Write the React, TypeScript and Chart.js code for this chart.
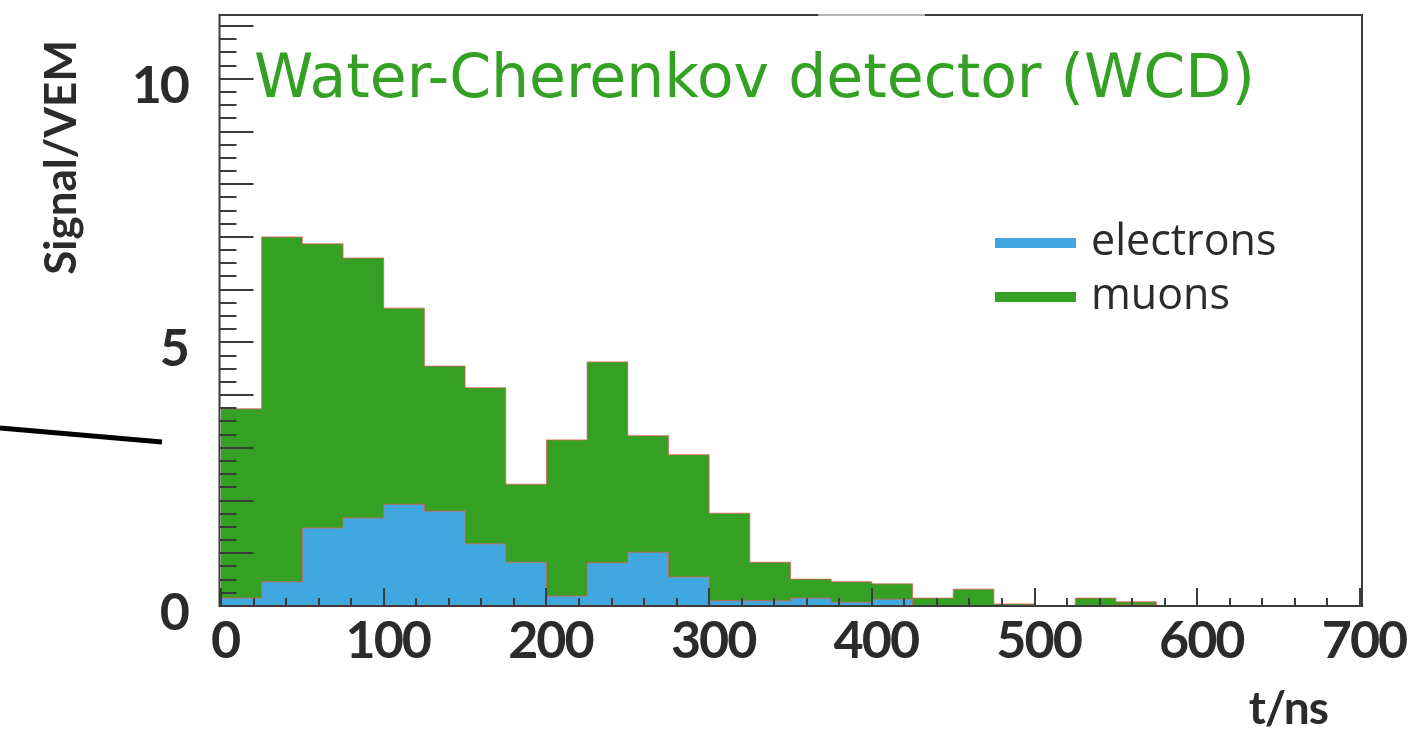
import { useEffect, useRef } from "react";
import { Chart, registerables } from "chart.js";

Chart.register(...registerables);

// Histogram binning (ns)
const BIN_WIDTH = 25;

// Per-bin signal contributions in VEM, bins of 25 ns starting at t = 0
const electrons = [
  0.15, 0.46, 1.48, 1.67, 1.93, 1.8, 1.18, 0.83, 0.19, 0.82, 1.02, 0.55, 0.1,
  0.1, 0.15, 0.07, 0.13, 0, 0, 0, 0, 0, 0.02,
];
const muons = [
  3.59, 6.54, 5.39, 4.93, 3.72, 2.75, 2.96, 1.48, 2.96, 3.81, 2.21, 2.32, 1.66,
  0.73, 0.36, 0.39, 0.29, 0.15, 0.32, 0.04, 0, 0.15, 0.06,
];

// Axis ranges and labelled ticks
const X_MAX = 700;
const Y_MAX = 11.21;
const xTickLabels = [0, 100, 200, 300, 400, 500, 600, 700];
const yTickLabels = [0, 5, 10];

const TITLE = "Water-Cherenkov detector (WCD)";
const X_TITLE = "t/ns";
const Y_TITLE = "Signal/VEM";
const legendItems = [
  { label: "electrons", color: "rgb(64,168,222)" },
  { label: "muons", color: "rgb(52,160,36)" },
];

const GREEN = "rgb(52,160,36)";
const BLUE = "rgb(64,168,222)";
const OUTLINE = "rgba(235,90,90,0.75)";
const AXIS = "#3b3b3b";
const TEXT = "#2b2b2b";

// Muons are stacked on top of electrons: the green outline is the total signal
const totalSignal = muons.map((m, i) => m + electrons[i]);

// Step outline of a histogram: one point per bin's left edge plus closing edges
function histogramPoints(values: number[]) {
  const pts: { x: number; y: number }[] = [{ x: 0, y: 0 }];
  values.forEach((v, i) => pts.push({ x: i * BIN_WIDTH, y: v }));
  pts.push({ x: values.length * BIN_WIDTH, y: 0 });
  return pts;
}

const rootStylePlugin = {
  id: "rootStyle",
  afterDatasetsDraw(chart: any) {
    const { ctx, chartArea, scales } = chart;
    const xs = scales.x;
    const ys = scales.y;
    const left = chartArea.left - 1.5;
    const right = chartArea.right + 2;
    const top = chartArea.top;
    const bottom = chartArea.bottom;

    ctx.save();

    // y ticks, pointing inward from the left frame
    ctx.strokeStyle = AXIS;
    ctx.lineWidth = 2;
    for (let k = 0; k * 0.25 <= Y_MAX; k++) {
      const v = k * 0.25;
      const y = Math.round(ys.getPixelForValue(v));
      const len = k % 4 === 0 ? 34 : 17;
      ctx.beginPath();
      ctx.moveTo(left, y);
      ctx.lineTo(left + len, y);
      ctx.stroke();
    }
    // x ticks, pointing up from the bottom frame
    for (let t = 0; t <= X_MAX; t += 20) {
      const x = Math.round(xs.getPixelForValue(t));
      const len = t % 100 === 0 ? 18 : 8;
      ctx.beginPath();
      ctx.moveTo(x, bottom);
      ctx.lineTo(x, bottom - len);
      ctx.stroke();
    }

    // frame
    ctx.strokeStyle = AXIS;
    ctx.lineWidth = 2;
    ctx.strokeRect(left, top, right - left, bottom - top);
    // lighter patch on the top edge
    ctx.strokeStyle = "#b4b4b4";
    ctx.beginPath();
    ctx.moveTo(818, top);
    ctx.lineTo(925, top);
    ctx.stroke();

    // tick labels
    ctx.fillStyle = TEXT;
    ctx.font = "bold 52px Lato";
    (ctx as any).letterSpacing = "-2px";
    ctx.textBaseline = "middle";
    ctx.textAlign = "center";
    xTickLabels.forEach((t) => {
      ctx.fillText(String(t), xs.getPixelForValue(t) + 4, bottom + 35);
    });
    ctx.textAlign = "right";
    yTickLabels.forEach((v) => {
      ctx.fillText(String(v), 188, ys.getPixelForValue(v) + 7);
    });

    // axis titles
    ctx.font = "bold 46px Lato";
    (ctx as any).letterSpacing = "-1px";
    ctx.textAlign = "right";
    ctx.textBaseline = "alphabetic";
    ctx.fillText(X_TITLE, 1328, 724);

    ctx.save();
    ctx.translate(76, 40);
    ctx.rotate(-Math.PI / 2);
    ctx.font = "bold 44px Lato";
    (ctx as any).letterSpacing = "0px";
    ctx.textAlign = "right";
    ctx.textBaseline = "alphabetic";
    ctx.fillText(Y_TITLE, 0, 0);
    ctx.restore();

    // title inside the frame
    (ctx as any).letterSpacing = "0px";
    ctx.font = "60px 'DejaVu Sans'";
    ctx.fillStyle = GREEN;
    ctx.textAlign = "left";
    ctx.textBaseline = "alphabetic";
    ctx.fillText(TITLE, 254, 97);

    // legend
    legendItems.forEach((item, i) => {
      const cy = 243 + i * 54;
      ctx.fillStyle = item.color;
      ctx.fillRect(995, cy - 5, 81, 10);
      ctx.fillStyle = TEXT;
      ctx.font = "43px 'Open Sans'";
      ctx.textBaseline = "middle";
      ctx.fillText(item.label, 1091, cy);
    });

    // stray leader line at the left margin
    ctx.strokeStyle = "#000";
    ctx.lineWidth = 5;
    ctx.beginPath();
    ctx.moveTo(0, 428);
    ctx.lineTo(162, 442);
    ctx.stroke();

    ctx.restore();
  },
};

export default function App() {
  const canvasRef = useRef<HTMLCanvasElement | null>(null);

  useEffect(() => {
    const canvas = canvasRef.current;
    if (!canvas) return;
    const chart = new Chart(canvas, {
      type: "line",
      data: {
        datasets: [
          {
            label: "electrons",
            data: histogramPoints(electrons),
            stepped: "before",
            fill: "origin",
            backgroundColor: BLUE,
            borderColor: OUTLINE,
            borderWidth: 1,
            pointRadius: 0,
          },
          {
            label: "muons",
            data: histogramPoints(totalSignal),
            stepped: "before",
            fill: "origin",
            backgroundColor: GREEN,
            borderColor: OUTLINE,
            borderWidth: 1,
            pointRadius: 0,
          },
        ],
      },
      options: {
        responsive: false,
        maintainAspectRatio: false,
        animation: false,
        parsing: false,
        layout: { padding: { left: 221, right: 64, top: 15, bottom: 132 } },
        scales: {
          x: { type: "linear", min: 0, max: X_MAX, display: false },
          y: { type: "linear", min: 0, max: Y_MAX, display: false },
        },
        plugins: {
          legend: { display: false },
          tooltip: { enabled: false },
          title: { display: false },
        },
      },
      plugins: [rootStylePlugin],
    });
    return () => chart.destroy();
  }, []);

  return (
    <div style={{ position: "absolute", left: 0, top: 0, width: 1424, height: 738, background: "#fff" }}>
      <canvas ref={canvasRef} width={1424} height={738} />
    </div>
  );
}
